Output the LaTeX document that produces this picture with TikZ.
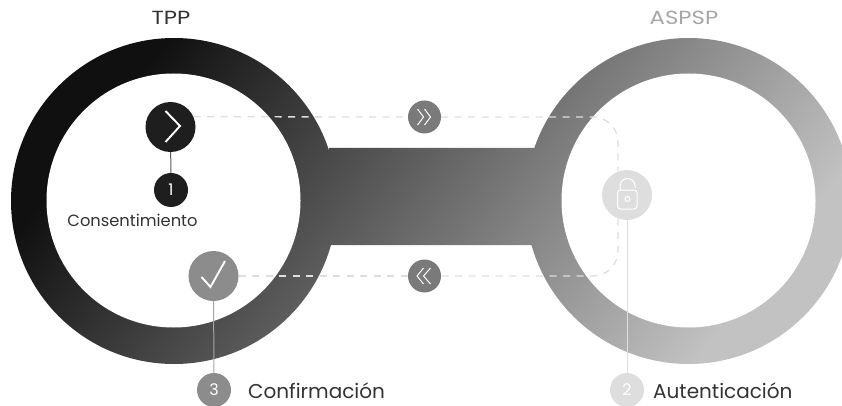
\documentclass[tikz,border=0pt]{standalone}
\usepackage{fontspec}
\setmainfont{Poppins}
\usetikzlibrary{calc}
\definecolor{ringdark}{HTML}{101010}
\definecolor{ringlight}{HTML}{C2C2C2}
\definecolor{stepdark}{HTML}{1E1E1E}
\definecolor{stepmid}{HTML}{8C8C8C}
\definecolor{steplight}{HTML}{DEDEDE}
\definecolor{flowgray}{HTML}{7A7A7A}
\tikzset{
    stepbig/.style={circle, minimum size=50pt, inner sep=0pt},
    stepnum/.style={circle, minimum size=34pt, inner sep=0pt, text=white, font=\fontsize{16}{16}\selectfont},
    flowdot/.style={circle, minimum size=33pt, inner sep=0pt, fill=flowgray},
    title/.style={font=\fontsize{19}{19}\selectfont\addfontfeature{FakeStretch=1.2}},
    caption/.style={font=\fontsize{20}{20}\selectfont, text=black!80, anchor=west},
    flowline/.style={dash pattern=on 7pt off 6.5pt, line width=1.3pt, color=steplight},
    glyph/.style={white, line width=1.9pt},
    thinglyph/.style={white, line width=1pt}
}
\begin{document}
\begin{tikzpicture}[x=1pt,y=-1pt]
    \path[use as bounding box, clip] (0,0) rectangle (842,406);
    % rings and bar
    \path[left color=ringdark, right color=ringlight, shading angle=52]
        (174,201) circle (163) (688.5,201) circle (163)
        (329,148) -- (536,148) -- (536,245) -- (329,245) -- cycle;
    \fill[white] (173.5,200.5) circle (127);
    \fill[white] (688.5,200.5) circle (127);
    % steps
    \node[stepbig, fill=stepdark] (chevron) at (170.5,127) {};
    \node[stepnum, fill=stepdark] (one) at (171,190) {1};
    \node[stepbig, fill=stepmid] (check) at (213.5,276) {};
    \node[stepnum, fill=stepmid] (three) at (214,390) {3};
    \node[stepbig, fill=steplight] (lock) at (627,195) {};
    \node[stepnum, fill=steplight] (two) at (627,390) {2};
    \node[flowdot] (forward) at (424.5,117) {};
    \node[flowdot] (backward) at (424.5,276) {};
    % labels
    \node[title, text=black!80] (tpp) at (171,18) {TPP};
    \node[title, text=black!35] (aspsp) at (684,18) {ASPSP};
    \node[font=\fontsize{16.3}{16.3}\selectfont, text=black!80] (consent) at (132.5,220) {Consentimiento};
    \node[caption, inner sep=0pt] (confirm) at (248,391) {Confirmación};
    \node[caption, inner sep=0pt] (auth) at (653,391) {Autenticación};
    % connectors
    \draw[black!65, line width=1pt] (chevron) -- (one);
    \draw[black!35, line width=1pt] (check) -- (three);
    \draw[steplight, line width=1pt] (lock) -- (two);
    \coordinate (turntop) at (618,117);
    \coordinate (turnlow) at (618,276);
    \draw[flowline] (chevron.24) -- (forward.west);
    \draw[flowline, rounded corners=25pt] (forward.east) -- (turntop) -- (lock.111);
    \draw[flowline, rounded corners=25pt] (lock.249) -- (turnlow) -- (backward.east);
    \draw[flowline] (backward.west) -- (check.east);
    % icons
    \draw[glyph] ($(chevron)+(-5,-16)$) -- ($(chevron)+(9.5,-1)$) -- ($(chevron)+(-5,15)$);
    \draw[glyph] ($(check)+(-12,1)$) -- ($(check)+(-3,11)$) -- ($(check)+(11.5,-15)$);
    \draw[thinglyph] ($(forward)+(-7,-8)$) -- ($(forward)+(-1,0)$) -- ($(forward)+(-7,8)$);
    \draw[thinglyph] ($(forward)+(0,-8)$) -- ($(forward)+(6,0)$) -- ($(forward)+(0,8)$);
    \draw[thinglyph] ($(backward)+(-1,-8)$) -- ($(backward)+(-7.5,0)$) -- ($(backward)+(-1,8)$);
    \draw[thinglyph] ($(backward)+(6,-8)$) -- ($(backward)+(-1,0)$) -- ($(backward)+(6,8)$);
    \draw[thinglyph, rounded corners=3pt] ($(lock)+(-9.5,-5)$) rectangle ($(lock)+(10,14)$);
    \draw[thinglyph] ($(lock)+(-7,-5)$) -- ($(lock)+(-7,-9)$) arc[start angle=180, end angle=360, radius=7.5] -- ($(lock)+(8,-7)$);
    \draw[thinglyph] ($(lock)+(0.5,4)$) circle (2.5);
\end{tikzpicture}
\end{document}
